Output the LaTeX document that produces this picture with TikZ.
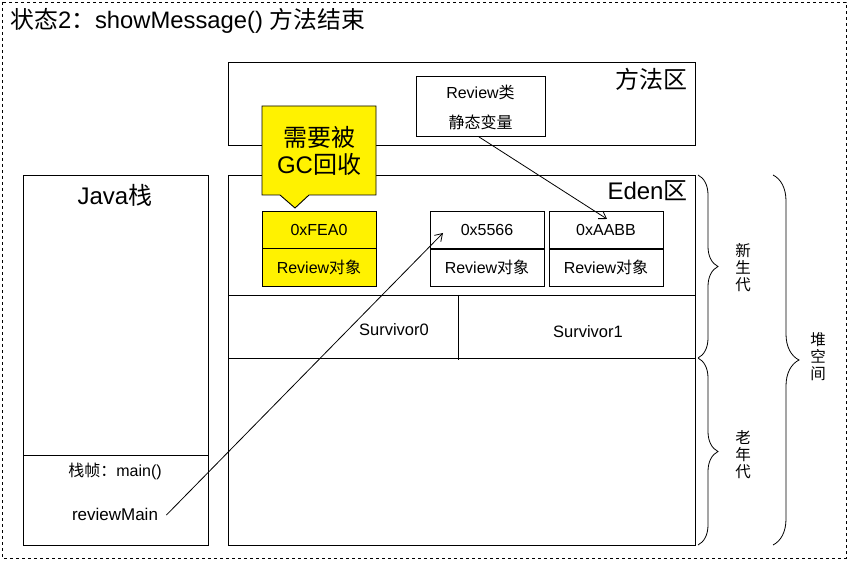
\documentclass[tikz,border=0pt]{standalone}
\usepackage{fontspec}
\setmainfont{Liberation Sans}
\newfontfamily\cjk{Noto Sans CJK SC}
\newcommand\zh[1]{{\cjk #1}}
\usetikzlibrary{decorations.pathreplacing,arrows.meta}
\tikzset{
  box/.style={draw, inner sep=0pt, anchor=north west},
  cell/.style={draw, inner sep=0pt, minimum width=114pt, minimum height=38pt, font=\fontsize{16}{19}\selectfont},
  ycell/.style={cell, fill=yellow},
  lbl/.style={inner sep=0pt, font=\fontsize{16}{19}\selectfont},
  big/.style={inner sep=0pt, font=\fontsize{24}{27}\selectfont},
  vlbl/.style={inner sep=0pt, align=center, font=\cjk\fontsize{15.5}{17}\selectfont},
  ptr/.style={line width=0.8pt, -{Straight Barb[length=7pt,width=9pt]}},
  brc/.style={decorate, line width=0.8pt, decoration={brace}},
}
\begin{document}
\begin{tikzpicture}[x=1pt,y=-1pt,line width=0.9pt]
\useasboundingbox (0,0) rectangle (849,561);
\draw[dashed, line width=0.8pt] (2,2) rectangle (846,558);
\node[anchor=west, inner sep=0pt, font=\fontsize{23.8}{26}\selectfont] (title) at (10,21) {\zh{状态}2\zh{：}showMessage() \zh{方法结束}};

% method area
\node[box, minimum width=467pt, minimum height=83pt] (method) at (228,62) {};
\node[big, anchor=north east, font=\cjk\fontsize{24}{27}\selectfont] (methodlbl) at (688,68) {方法区};
\node[box, minimum width=129pt, minimum height=60pt] (rclass) at (416,76) {};
\node[lbl] (rclassa) at (480.5,92) {Review\zh{类}};
\node[lbl, font=\cjk\fontsize{16}{19}\selectfont] (rclassb) at (480.5,122) {静态变量};

% heap
\node[box, minimum width=467pt, minimum height=370pt] (heap) at (228,175) {};
\node[big, anchor=north east] (edenlbl) at (688,180) {Eden\zh{区}};
\draw (228,295) -- (695,295);
\draw (228,358) -- (695,358);
\draw (458,295) -- (458,360);
\node[lbl, font=\fontsize{16.5}{19}\selectfont] (s0) at (394,330) {Survivor0};
\node[lbl, font=\fontsize{16.5}{19}\selectfont] (s1) at (588,332) {Survivor1};

% objects
\node[ycell] (fea0) at (319,230) {0xFEA0};
\node[ycell] (fea0b) at (319,267) {Review\zh{对象}};
\node[cell] (o5566) at (487,230) {0x5566};
\node[cell] (o5566b) at (487,267) {Review\zh{对象}};
\node[cell] (aabb) at (606,230) {0xAABB};
\node[cell] (aabbb) at (606,267) {Review\zh{对象}};

% callout
\draw[fill=yellow] (262,106) -- (376,106) -- (376,195) -- (309,195) -- (295,208) -- (280,195) -- (262,195) -- cycle;
\node[align=center, inner sep=0pt, font=\fontsize{24}{27}\selectfont] (gc) at (319,151) {\zh{需要被}\\GC\zh{回收}};

% java stack
\node[box, minimum width=185pt, minimum height=370pt] (stack) at (23,175) {};
\node[big] (stacklbl) at (115,195) {Java\zh{栈}};
\draw (23,455) -- (208,455);
\node[lbl] (frame) at (115,471) {\zh{栈帧：}main()};
\node[inner sep=0pt, font=\fontsize{17}{20}\selectfont] (rm) at (115,514) {reviewMain};

% arrows
\coordinate (t1) at (443,233);
\coordinate (t2) at (607,219);
\draw[ptr] (rm.east) ++(8,1) -- (t1);
\draw[ptr] (rclass.south) ++(-2,0) -- (t2);

% braces
\draw[brc, decoration={brace, amplitude=20pt}] (698,175) -- (698,358);
\draw[brc, decoration={brace, amplitude=20pt}] (698,358) -- (698,545);
\draw[brc, decoration={brace, amplitude=26pt}] (773,175) -- (773,545);
\node[vlbl] (xsd) at (743,268) {新\\生\\代};
\node[vlbl] (lnd) at (743,455) {老\\年\\代};
\node[vlbl] (dkj) at (818,357) {堆\\空\\间};
\end{tikzpicture}
\end{document}
